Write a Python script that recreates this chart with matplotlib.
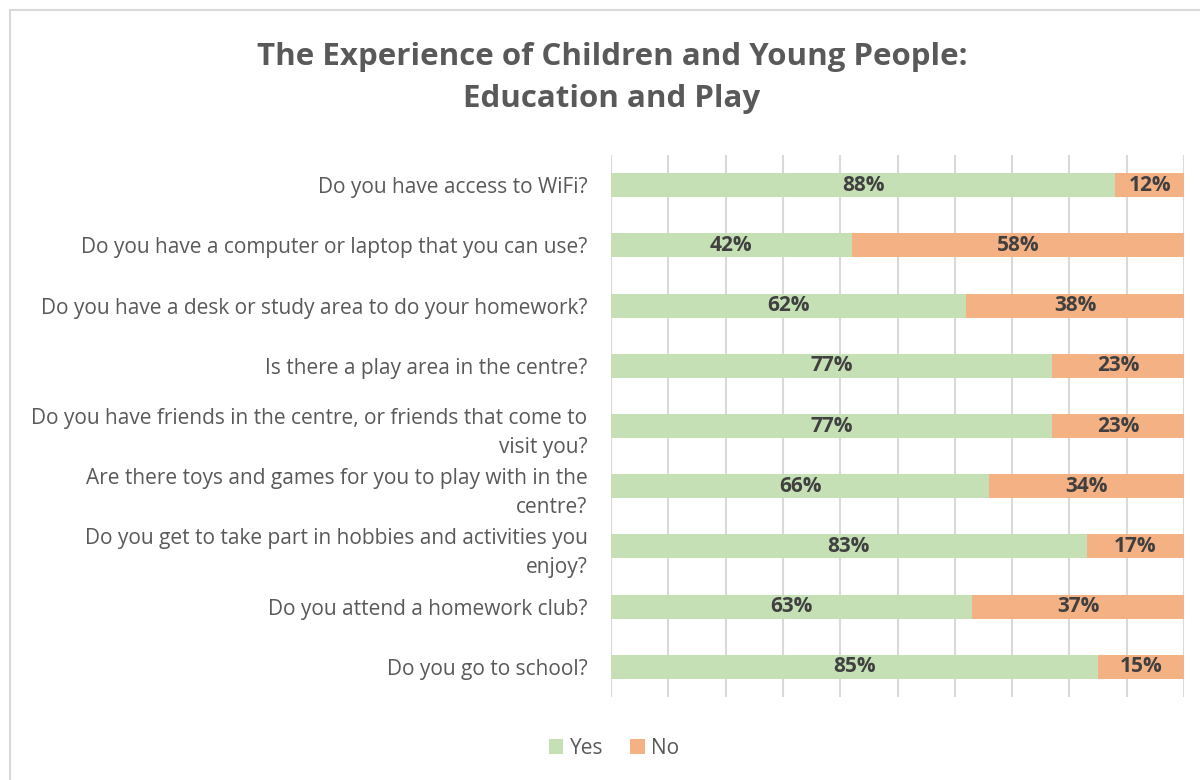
import numpy as np
import matplotlib.pyplot as plt
from matplotlib.patches import Rectangle

plt.rcParams['font.family'] = ['Open Sans', 'DejaVu Sans']

# survey questions, top to bottom
questions = [
    "Do you have access to WiFi?",
    "Do you have a computer or laptop that you can use?",
    "Do you have a desk or study area to do your homework?",
    "Is there a play area in the centre?",
    "Do you have friends in the centre, or friends that come to\nvisit you?",
    "Are there toys and games for you to play with in the\ncentre?",
    "Do you get to take part in hobbies and activities you\nenjoy?",
    "Do you attend a homework club?",
    "Do you go to school?",
]
yes_pct = [88, 42, 62, 77, 77, 66, 83, 63, 85]
no_pct = [12, 58, 38, 23, 23, 34, 17, 37, 15]

green = '#C5E0B4'
orange = '#F4B183'
label_grey = '#595959'
value_grey = '#404040'

fig = plt.figure(figsize=(12, 7.8), dpi=100)
ax = fig.add_axes([611 / 1200, 1 - 697 / 780, 573 / 1200, 542 / 780])

# chart frame
fig.patches.append(Rectangle((10 / 1200, -0.1), 1.2, 1.1 - 10 / 780,
                             transform=fig.transFigure, fill=False,
                             edgecolor='#D9D9D9', linewidth=1.5))

y = np.arange(len(questions))
yes = np.array(yes_pct)
no = np.array(no_pct)

ax.barh(y, yes, height=0.4, color=green, label='Yes', zorder=2)
ax.barh(y, no, left=yes, height=0.4, color=orange, label='No', zorder=2)

for i in range(len(y)):
    ax.text(yes[i] / 2, y[i], f"{yes[i]}%", ha='center', va='center',
            fontsize=15, fontweight='bold', color=value_grey, zorder=3)
    ax.text(yes[i] + no[i] / 2, y[i], f"{no[i]}%", ha='center', va='center',
            fontsize=15, fontweight='bold', color=value_grey, zorder=3)

ax.set_xlim(0, 100)
ax.set_ylim(len(questions) - 0.5, -0.5)
ax.set_xticks(np.arange(0, 101, 10))
ax.xaxis.grid(True, color='#D9D9D9', linewidth=1.5, zorder=0)
ax.tick_params(axis='x', length=0, labelbottom=False)
ax.tick_params(axis='y', length=0, pad=17)
ax.set_yticks(y)
ax.set_yticklabels(questions, fontsize=15, color=label_grey, linespacing=1.5)
for s in ax.spines.values():
    s.set_visible(False)

fig.text(612 / 1200, 1 - 78 / 780,
         "The Experience of Children and Young People:\nEducation and Play",
         ha='center', va='center', fontsize=22.5, fontweight='bold',
         color=label_grey, linespacing=1.55)

ax.legend(loc='center', bbox_to_anchor=(614 / 1200, 1 - 748 / 780),
          bbox_transform=fig.transFigure, ncol=2, frameon=False,
          fontsize=15, handlelength=0.7, handleheight=0.7,
          handletextpad=0.3, columnspacing=1.3, labelcolor=label_grey)

fig.savefig('out.png', dpi=100)
